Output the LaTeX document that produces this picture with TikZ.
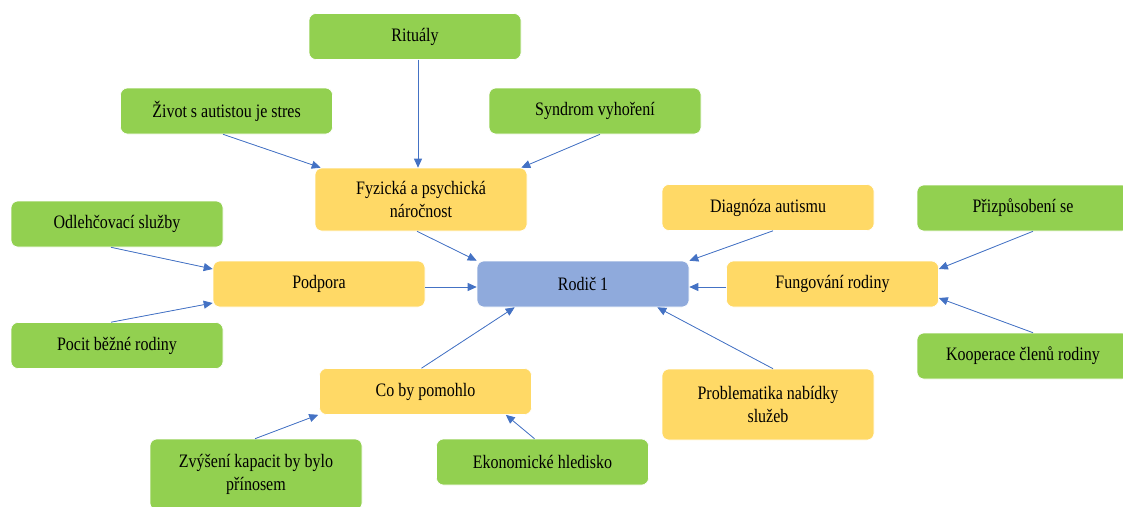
\documentclass[tikz,border=0pt]{standalone}
\usepackage{fontspec}
\setmainfont{Liberation Serif}[FakeStretch=0.842]
\usetikzlibrary{arrows.meta}
\definecolor{boxgreen}{HTML}{92D050}
\definecolor{boxyellow}{HTML}{FFD966}
\definecolor{boxblue}{HTML}{8FAADC}
\definecolor{linkblue}{HTML}{4472C4}
\tikzset{
  card/.style={rectangle, rounded corners=7pt, draw=white, line width=0.6pt,
    minimum width=212pt, minimum height=46pt, inner sep=0pt, align=center,
    font=\fontsize{19pt}{23pt}\selectfont},
  tall/.style={minimum height=63pt},
  taller/.style={minimum height=71pt},
  leaf/.style={card, fill=boxgreen},
  topic/.style={card, fill=boxyellow},
  hub/.style={card, fill=boxblue},
  link/.style={draw=linkblue, line width=0.8pt, -{Triangle[length=9pt,width=8pt]}, fill=linkblue}
}
\begin{document}
\begin{tikzpicture}[x=1pt, y=-1pt]
\useasboundingbox (0,0) rectangle (1123,506);
\clip (0,0) rectangle (1123,506);

% central node
\node[hub] (rodic) at (583,284) {Rodič 1};

% first-level topics
\node[topic, tall] (fyzicka) at (421,199.5) {Fyzická a psychická\\náročnost};
\node[topic] (diagnoza) at (768,207.5) {Diagnóza autismu};
\node[topic] (podpora) at (319,284) {Podpora};
\node[topic] (fungovani) at (832.5,284) {Fungování rodiny};
\node[topic] (pomohlo) at (425.5,391.5) {Co by pomohlo};
\node[topic, taller] (problematika) at (768,404.5) {Problematika nabídky\\služeb};

% second-level items
\node[leaf] (ritualy) at (415,36.5) {Rituály};
\node[leaf] (zivot) at (226.5,111) {Život s autistou je stres};
\node[leaf] (syndrom) at (595,111) {Syndrom vyhoření};
\node[leaf] (odlehcovaci) at (117,224) {Odlehčovací služby};
\node[leaf] (pocit) at (117,345.5) {Pocit běžné rodiny};
\node[leaf] (prizpusobeni) at (1023,208) {Přizpůsobení se};
\node[leaf] (kooperace) at (1023,356) {Kooperace členů rodiny};
\node[leaf, taller] (zvyseni) at (256,474.5) {Zvýšení kapacit by bylo\\přínosem};
\node[leaf] (ekonomicke) at (542.5,462) {Ekonomické hledisko};

% links into the first level
\draw[link] ([xshift=3pt]ritualy.south) -- ([xshift=-3pt]fyzicka.north);
\draw[link] ([xshift=-3.5pt]zivot.south) -- ([xshift=6pt]fyzicka.north west);
\draw[link] ([xshift=5pt]syndrom.south) -- ([xshift=-6pt]fyzicka.north east);
\draw[link] ([xshift=-6pt]odlehcovaci.south) -- ([yshift=15pt]podpora.west);
\draw[link] ([xshift=-6pt]pocit.north) -- ([yshift=-19pt]podpora.west);
\draw[link] ([xshift=10pt]prizpusobeni.south) -- ([yshift=15pt]fungovani.east);
\draw[link] ([xshift=10pt]kooperace.north) -- ([yshift=-14pt]fungovani.east);
\draw[link] ([xshift=-1pt]zvyseni.north) -- ([xshift=-1pt]pomohlo.south west);
\draw[link] ([xshift=-8pt]ekonomicke.north) -- ([xshift=-26pt]pomohlo.south east);

% links into the centre
\draw[link] ([xshift=-4pt]fyzicka.south) -- (rodic.north west);
\draw[link] ([xshift=5pt]diagnoza.south) -- (rodic.north east);
\draw[link] ([yshift=-3pt]podpora.east) -- ([yshift=-3pt]rodic.west);
\draw[link] ([yshift=-3pt]fungovani.west) -- ([yshift=-3pt]rodic.east);
\draw[link] ([xshift=-4pt]pomohlo.north) -- ([xshift=38pt]rodic.south west);
\draw[link] ([xshift=5pt]problematika.north) -- ([xshift=-32pt]rodic.south east);
\end{tikzpicture}
\end{document}
